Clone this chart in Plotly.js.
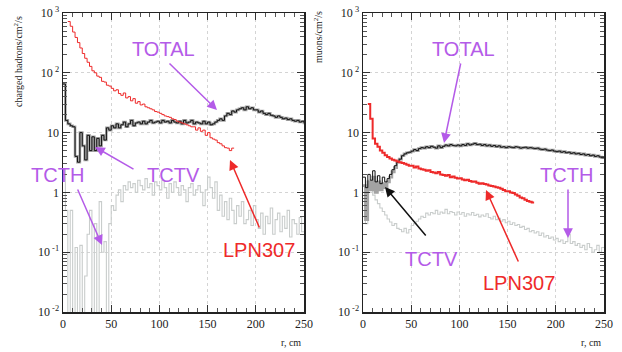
<!DOCTYPE html>
<html><head><meta charset="utf-8">
<script src="https://cdn.plot.ly/plotly-3.0.1.min.js"></script>
<style>html,body{margin:0;padding:0;background:#fff}#c{width:622px;height:352px}</style>
</head><body><div id="c"></div>
<script>
// ---------- data (2.5 cm bins) ----------
const binWidth = 2.5;
const leftTotalStart = 0;
const leftTotal = [65,16,14,13,12.5,4,3.2,10,6,3.5,9,5,8.5,5,8,6,9,7.5,12,11,
13,12,14,12,13.5,15,12.5,14,16,13,14.5,15,14,15.5,14,15,16,14.5,15,15.5,
14.5,16,15,15.5,14.5,16,15,14.5,15.5,14,16,14.5,15,16,14,15,14.5,14,15.5,14,
15,13.5,14,15,16,17,16,19,21,20,23,22,24,25,26,24,27,25,26,24,
24,22,23,21,20,21,19.5,19,18,19,18,17,17.5,16.5,17,16,15.5,16,15,15.5,14.5,14];
const leftTcth = [2.5,0.5,0.001,0.5,0.001,0.12,0.001,0.13,0.001,0.04,0.2,0.5,0.001,0.3,0.001,0.7,0.1,0.15,0.001,0.3,
0.6,0.5,0.9,1.1,0.7,1.3,1.1,1.5,1.2,1.4,1.0,1.6,1.3,1.1,1.7,1.2,1.4,0.9,1.5,1.3,
1.1,1.6,1.2,0.8,1.4,1.0,1.5,1.2,0.9,1.3,1.1,0.7,1.2,1.4,0.9,1.1,1.3,1.0,0.6,1.1,
1.8,1.2,0.8,1.5,0.5,0.9,0.4,0.7,0.35,0.8,0.5,0.3,0.6,0.4,0.7,0.3,0.35,0.5,0.28,0.6,
0.35,0.25,0.45,0.2,0.4,0.3,0.55,0.2,0.35,0.45,0.22,0.4,0.25,0.5,0.18,0.35,0.3,0.2,0.38,0.22];
const leftLpnStart = 5;
const leftLpn = [720,600,480,390,320,260,210,175,150,128,108,100,88,84,72,70,62,60,55,50,
52,45,42,46,38,40,34,37,31,33,29,30,27,26,25,24,22.5,22,21,20,
19,18.5,18,17,16.5,15.5,15,14.5,14,13.5,13,12.5,12.5,11,12,10.5,11,9,10,8.2,
7.8,7.5,6.8,6.5,6.0,5.6,5.5,5.0,5.5];

const rightTotalStart = 0;
const rightTotal = [1.8,1.2,2.0,1.6,2.3,1.5,1.9,1.4,1.8,1.5,1.7,2.0,2.4,2.8,3.2,3.6,4.1,4.4,4.6,4.7,
4.9,5.2,5.0,5.4,5.6,5.5,5.8,5.6,5.9,5.7,5.5,6.0,5.6,5.9,6.2,6.0,6.3,6.1,6.0,6.2,
6.0,6.3,6.1,6.5,6.2,6.4,6.6,6.3,6.4,6.1,6.3,6.0,6.2,5.9,6.1,5.8,6.0,5.7,5.8,5.6,
5.8,5.7,5.6,5.8,5.7,5.5,5.6,5.7,5.5,5.6,5.5,5.4,5.5,5.3,5.2,5.3,5.1,5.0,5.1,4.9,
4.8,4.9,4.7,4.8,4.6,4.7,4.5,4.6,4.4,4.5,4.3,4.4,4.2,4.3,4.1,4.2,4.0,4.1,3.9,3.8];
const rightTctvHead = [1.3,0.35,1.5,1.1,1.8,1.0,1.5,1.1,1.4,1.2,1.5,1.8,2.2,2.6];
const rightTcth = [1.0,0.3,1.6,1.2,0.9,0.75,0.65,0.55,0.48,0.42,0.36,0.32,0.28,0.3,0.25,0.24,0.22,0.25,0.21,0.24,
0.28,0.3,0.33,0.36,0.4,0.38,0.45,0.42,0.46,0.44,0.5,0.43,0.47,0.45,0.52,0.44,0.48,0.46,0.42,0.47,
0.43,0.46,0.4,0.44,0.42,0.46,0.41,0.43,0.39,0.42,0.4,0.44,0.38,0.36,0.4,0.35,0.37,0.33,0.35,0.31,
0.33,0.29,0.31,0.28,0.29,0.26,0.27,0.24,0.25,0.22,0.23,0.21,0.22,0.19,0.21,0.18,0.19,0.17,0.18,0.16,
0.17,0.15,0.16,0.14,0.15,0.2,0.14,0.15,0.13,0.14,0.12,0.13,0.11,0.14,0.12,0.1,0.11,0.13,0.1,0.12];
const rightLpnStart = 5;
const rightLpn = [30,17,8,6.5,5.8,5,4.6,4.2,3.9,3.7,3.5,3.4,3.3,3.2,3.1,3.0,2.9,2.8,2.8,2.6,
2.7,2.5,2.45,2.4,2.3,2.35,2.2,2.15,2.1,2.2,2.0,1.95,1.9,1.95,1.8,1.85,1.75,1.7,1.72,1.65,
1.6,1.62,1.55,1.5,1.52,1.45,1.4,1.42,1.38,1.35,1.3,1.28,1.25,1.22,1.2,1.15,1.1,1.05,1.05,1.0,
0.98,0.92,0.88,0.82,0.8,0.75,0.72,0.7,0.68];

const yTickVals = [0.01,0.1,1,10,100,1000];
const yTickText = ['10<sup> -2</sup>','10<sup> -1</sup>','1','10','10<sup> 2</sup>','10<sup> 3</sup>'];
const xTickVals = [0,50,100,150,200,250];

// ---------- helpers ----------
function step(start, vals){
  const x = vals.map((_, i) => start + i*binWidth);
  x.push(start + vals.length*binWidth);
  const y = vals.slice(); y.push(vals[vals.length-1]);
  return {x, y};
}
const RED = '#ee2a2a', PURP = '#b45be8', LGREY = '#c9cdcc', DGREY = '#a3a3a3';
function tr(start, vals, color, width, ax){
  const s = step(start, vals);
  return {x:s.x, y:s.y, type:'scatter', mode:'lines', line:{shape:'hv', color, width},
          xaxis:ax[0], yaxis:ax[1], hoverinfo:'skip', showlegend:false};
}
const L = ['x','y'], R = ['x2','y2'];
const rightTctv = rightTctvHead.concat(rightTotal.slice(rightTctvHead.length));
const data = [
  tr(0, leftTcth, LGREY, 1.1, L),
  tr(leftTotalStart, leftTotal, DGREY, 2.6, L),
  tr(leftTotalStart, leftTotal, '#111', 1.0, L),
  tr(leftLpnStart, leftLpn, RED, 1.0, L),
  tr(0, rightTcth, LGREY, 1.1, R),
  tr(rightTotalStart, rightTctv, DGREY, 2.6, R),
  tr(rightTotalStart, rightTotal, '#111', 1.0, R),
  tr(rightLpnStart, rightLpn, RED, 2, R)
];

let minorY = [];
for (let d=-2; d<3; d++) for (let k=2; k<10; k++) minorY.push(k*Math.pow(10,d));
const minorX = []; for (let v=10; v<250; v+=10) if (v%50) minorX.push(v);

const TICKFONT = {family:'"Liberation Serif", "Times New Roman", serif', size:12, color:'#222'};
function xax(dom, anchor){
  return {domain:dom, anchor, range:[0,250], tickmode:'array', tickvals:xTickVals,
    ticks:'inside', ticklen:7, tickcolor:'#333', mirror:'allticks', showline:true, linecolor:'#222', linewidth:1.5,
    showgrid:true, gridcolor:'#d4d4d4', griddash:'dot', gridwidth:1, zeroline:false,
    tickfont:TICKFONT,
    minor:{tickmode:'array', tickvals:minorX, ticks:'inside', ticklen:4, tickcolor:'#555', showgrid:false}};
}
function yax(dom, anchor){
  return {domain:dom, anchor, type:'log', range:[-2,3], tickmode:'array', tickvals:yTickVals, ticktext:yTickText,
    ticks:'inside', ticklen:7, tickcolor:'#333', mirror:'allticks', showline:true, linecolor:'#222', linewidth:1.5,
    showgrid:true, gridcolor:'#d4d4d4', griddash:'dot', gridwidth:1, zeroline:false,
    tickfont:TICKFONT,
    minor:{tickmode:'array', tickvals:minorY, ticks:'inside', ticklen:4, tickcolor:'#555', showgrid:false}};
}
const W=622, H=352;
const px = v => v/W, py = v => 1 - v/H;
const lab = (text, x, y, color, size) => ({text, x:px(x), y:py(y), xref:'paper', yref:'paper', showarrow:false,
  xanchor:'center', yanchor:'middle',
  font:{family:'"Liberation Sans", Arial, sans-serif', size:size||20, color}});
const arr = (x0,y0,x1,y1,color) => ({text:'', x:px(x1), y:py(y1), xref:'paper', yref:'paper',
  ax:x0-x1, ay:y0-y1, axref:'pixel', ayref:'pixel', showarrow:true, arrowhead:2, arrowsize:1.3, arrowwidth:1.5, arrowcolor:color});
const serif = (text, x, y, size, angle) => ({text, x:px(x), y:py(y), xref:'paper', yref:'paper', showarrow:false,
  textangle:angle||0, xanchor:'center', yanchor:'middle',
  font:{family:'"Liberation Serif", "Times New Roman", serif', size:size||11, color:'#222'}});

const layout = {
  width:W, height:H, margin:{l:0,r:0,t:0,b:0}, paper_bgcolor:'#fff', plot_bgcolor:'#fff', showlegend:false,
  xaxis:xax([63/W,304/W],'y'), yaxis:yax([1-312/H,1-13/H],'x'),
  xaxis2:xax([363/W,604/W],'y2'), yaxis2:yax([1-312/H,1-13/H],'x2'),
  annotations:[
    lab('TOTAL',164,49,PURP), arr(168,62,217,110,PURP),
    lab('TCTV',173,175,PURP), arr(135,170,95,147,PURP),
    lab('TCTH',57,175,PURP), arr(77,188,102,245,PURP),
    lab('LPN307',259,250,RED), arr(260,229,230,160,RED),
    lab('TOTAL',463,49,PURP), arr(461,62,444,143,PURP),
    lab('TCTH',566,175,PURP), arr(568,188,568,238,PURP),
    lab('TCTV',431,259,PURP), arr(427,237,385,187,'#111'),
    lab('LPN307',519,283,RED), arr(519,263,486,190,RED),
    serif('charged hadrons/cm<sup>2</sup>/s',18,62,10,-90),
    serif('muons/cm<sup>2</sup>/s',318,37,10,-90),
    serif('r, cm',291,342,10),
    serif('r, cm',591,342,10)
  ]
};
Plotly.newPlot('c', data, layout, {displayModeBar:false, staticPlot:true});
</script></body></html>
